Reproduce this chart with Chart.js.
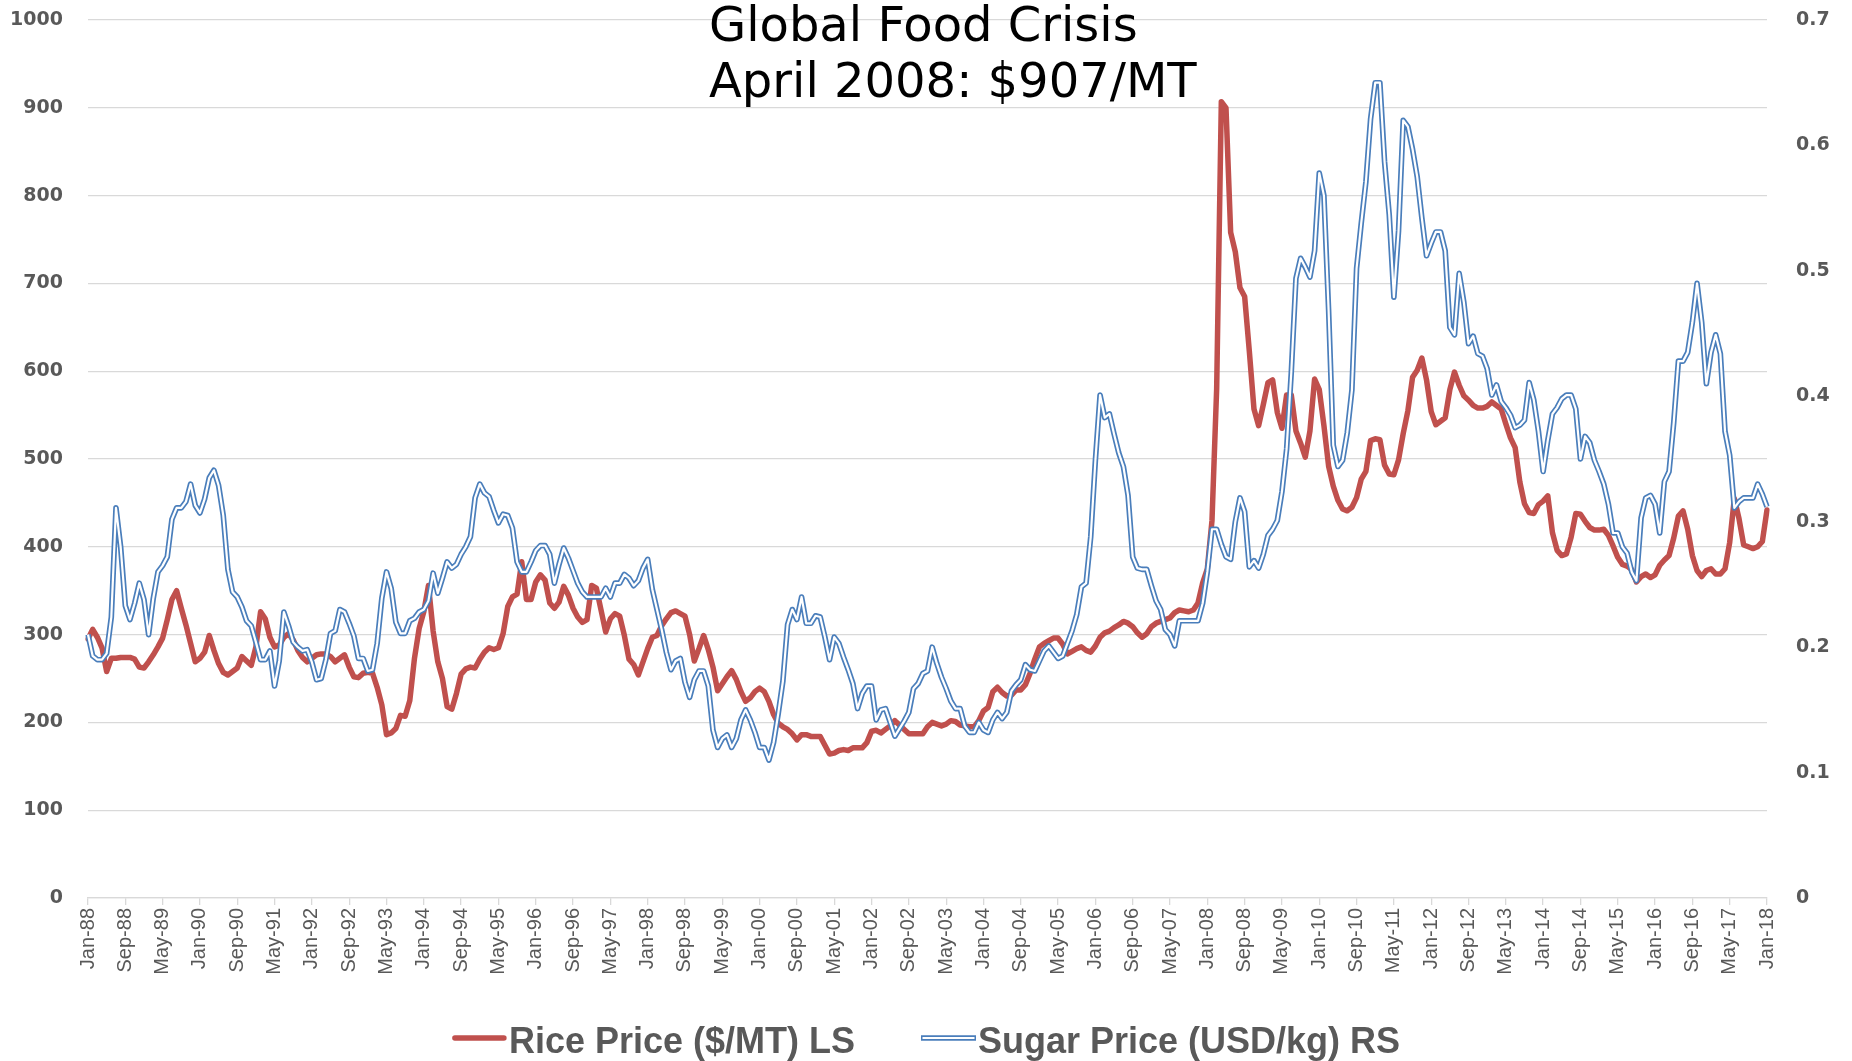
<!DOCTYPE html>
<html>
<head>
<meta charset="utf-8">
<title>Global Food Crisis - Rice and Sugar Prices</title>
<script src="https://cdn.jsdelivr.net/npm/chart.js"></script>
<style>
  html, body { margin: 0; padding: 0; background: #ffffff; }
  #wrap { width: 1852px; height: 1061px; position: relative; }
  canvas { display: block; }
</style>
</head>
<body>
<div id="wrap"><canvas id="chart" width="1852" height="1061"></canvas></div>
<script>
// ---------------- DATA ----------------
const monthNames = ['Jan','Feb','Mar','Apr','May','Jun','Jul','Aug','Sep','Oct','Nov','Dec'];
const startYear = 1988;
const monthCount = 361; // Jan-88 .. Jan-18

const tickLabels = ['Jan-88','Sep-88','May-89','Jan-90','Sep-90','May-91','Jan-92','Sep-92','May-93','Jan-94',
  'Sep-94','May-95','Jan-96','Sep-96','May-97','Jan-98','Sep-98','May-99','Jan-00','Sep-00','May-01','Jan-02',
  'Sep-02','May-03','Jan-04','Sep-04','May-05','Jan-06','Sep-06','May-07','Jan-08','Sep-08','May-09','Jan-10',
  'Sep-10','May-11','Jan-12','Sep-12','May-13','Jan-14','Sep-14','May-15','Jan-16','Sep-16','May-17','Jan-18'];

const leftTickValues = [0,100,200,300,400,500,600,700,800,900,1000];
const rightTickLabels = ['0','0.1','0.2','0.3','0.4','0.5','0.6','0.7'];

// Rice Price ($/MT), monthly Jan-88 .. Jan-18
const ricePrice = [
295,306,297,285,258,273,273,274,274,274,272,263,
262,269,277,286,296,317,340,350,330,311,290,269,
273,280,299,282,267,257,254,258,262,275,270,265,
286,326,318,297,286,288,297,301,294,282,274,269,
273,277,278,278,275,269,273,277,263,252,251,256,
257,256,240,220,186,188,193,208,207,225,273,307,
326,356,304,269,250,218,215,233,255,261,263,262,
272,280,285,283,285,301,332,343,346,383,340,340,
360,368,362,336,330,337,355,345,330,320,314,317,
356,353,328,303,318,324,321,299,272,266,254,269,
284,297,299,310,318,325,327,324,321,300,270,284,
299,283,263,236,244,252,259,249,235,224,228,235,
239,235,224,209,199,195,192,187,180,186,186,184,
184,184,174,164,165,168,169,168,171,171,171,177,
190,191,188,192,196,202,197,192,187,187,187,187,
195,200,198,196,198,202,201,197,196,195,195,202,
213,217,235,240,234,230,231,237,237,243,256,272,
286,290,293,296,296,289,278,281,284,286,282,280,
287,297,302,304,308,311,315,313,309,302,297,301,
309,313,315,317,319,325,328,327,326,328,336,359,
375,430,580,907,900,758,736,695,685,623,557,538,
562,587,590,553,535,573,573,532,518,502,532,591,
579,538,492,469,453,443,441,445,456,477,486,521,
523,522,493,483,482,499,529,555,593,601,615,590,
554,539,543,547,579,599,584,572,567,561,558,558,
560,565,561,557,540,524,513,474,449,439,438,448,
452,458,416,396,390,392,411,438,437,429,422,419,
419,420,413,401,388,380,378,374,360,366,369,365,
368,379,385,390,410,435,441,420,390,373,366,373,
375,369,369,375,405,455,432,402,400,398,400,406,
442];

// Sugar Price (USD/kg), monthly Jan-88 .. Jan-18
const sugarPrice = [
0.210,0.193,0.190,0.190,0.195,0.224,0.311,0.280,0.233,0.222,0.235,0.251,
0.238,0.210,0.239,0.260,0.265,0.272,0.302,0.311,0.311,0.316,0.330,0.313,
0.307,0.318,0.335,0.341,0.329,0.305,0.262,0.244,0.240,0.232,0.221,0.217,
0.204,0.190,0.190,0.197,0.169,0.189,0.228,0.217,0.204,0.200,0.197,0.198,
0.188,0.174,0.175,0.190,0.211,0.213,0.230,0.228,0.219,0.209,0.191,0.191,
0.181,0.182,0.203,0.239,0.260,0.247,0.220,0.211,0.211,0.221,0.223,0.228,
0.230,0.237,0.259,0.243,0.255,0.268,0.263,0.266,0.274,0.280,0.288,0.319,
0.330,0.323,0.320,0.309,0.299,0.306,0.305,0.295,0.268,0.260,0.260,0.268,
0.277,0.281,0.281,0.274,0.251,0.266,0.279,0.271,0.261,0.251,0.244,0.240,
0.240,0.240,0.240,0.247,0.240,0.251,0.251,0.258,0.255,0.249,0.253,0.263,
0.270,0.246,0.230,0.214,0.196,0.182,0.189,0.191,0.172,0.160,0.174,0.181,
0.181,0.169,0.134,0.120,0.127,0.130,0.120,0.127,0.142,0.150,0.142,0.132,
0.120,0.120,0.110,0.124,0.147,0.173,0.218,0.230,0.222,0.240,0.219,0.219,
0.225,0.224,0.208,0.190,0.208,0.203,0.192,0.182,0.171,0.151,0.163,0.169,
0.169,0.142,0.150,0.151,0.140,0.129,0.135,0.141,0.148,0.167,0.171,0.179,
0.181,0.200,0.187,0.176,0.167,0.157,0.151,0.151,0.137,0.132,0.132,0.140,
0.134,0.132,0.142,0.148,0.143,0.148,0.165,0.170,0.174,0.186,0.182,0.181,
0.189,0.197,0.201,0.196,0.191,0.193,0.203,0.213,0.226,0.248,0.251,0.288,
0.349,0.401,0.383,0.386,0.370,0.355,0.344,0.321,0.272,0.263,0.262,0.262,
0.249,0.237,0.230,0.214,0.210,0.201,0.221,0.221,0.221,0.221,0.221,0.235,
0.260,0.294,0.294,0.282,0.272,0.270,0.300,0.319,0.308,0.264,0.269,0.263,
0.274,0.289,0.294,0.301,0.324,0.358,0.419,0.494,0.510,0.503,0.495,0.516,
0.578,0.560,0.469,0.361,0.344,0.349,0.371,0.405,0.502,0.538,0.571,0.621,
0.650,0.650,0.587,0.545,0.479,0.532,0.620,0.615,0.597,0.575,0.542,0.512,
0.522,0.531,0.531,0.516,0.455,0.449,0.498,0.475,0.442,0.448,0.434,0.432,
0.422,0.401,0.409,0.396,0.391,0.385,0.375,0.377,0.381,0.411,0.397,0.372,
0.340,0.365,0.386,0.391,0.398,0.401,0.401,0.390,0.350,0.368,0.363,0.349,
0.340,0.330,0.314,0.291,0.291,0.280,0.275,0.260,0.253,0.303,0.319,0.321,
0.314,0.291,0.332,0.340,0.379,0.428,0.428,0.435,0.459,0.490,0.459,0.410,
0.435,0.449,0.434,0.372,0.353,0.311,0.316,0.319,0.319,0.319,0.330,0.322,
0.312];

const titleLines = ['Global Food Crisis', 'April 2008: $907/MT'];
const legendTexts = ['Rice Price ($/MT) LS', 'Sugar Price (USD/kg) RS'];

// category labels (one per month)
const categories = [];
for (let k = 0; k < monthCount; k++) {
  const y = startYear + Math.floor(k / 12);
  categories.push(monthNames[k % 12] + '-' + String(y % 100).padStart(2, '0'));
}

// ---------------- STYLE ----------------
const RED = '#c0504d';
const BLUE = '#4a7ebb';
const GRID = '#d9d9d9';
const LABEL = '#595959';

function fontAvailable(name) {
  const c = document.createElement('canvas').getContext('2d');
  const s = 'Rice Price ($/MT) LS abcdefghij 0123';
  c.font = 'bold 40px monospace'; const a = c.measureText(s).width;
  c.font = 'bold 40px "' + name + '", monospace'; const b = c.measureText(s).width;
  c.font = 'bold 40px serif'; const a2 = c.measureText(s).width;
  c.font = 'bold 40px "' + name + '", serif'; const b2 = c.measureText(s).width;
  return (a !== b) || (a2 !== b2);
}
const legendFont = fontAvailable('Liberation Sans Narrow')
  ? 'bold 43px "Liberation Sans Narrow"'
  : 'bold 36px "Liberation Sans"';

const titlePlugin = {
  id: 'overlayTitle',
  afterDraw(chart) {
    const ctx = chart.ctx;
    ctx.save();
    ctx.font = '48px "DejaVu Sans"';
    ctx.fillStyle = '#000000';
    ctx.textBaseline = 'alphabetic';
    ctx.textAlign = 'left';
    ctx.fillText(titleLines[0], 709, 41);
    ctx.fillText(titleLines[1], 709, 97);
    ctx.restore();
  }
};

const legendPlugin = {
  id: 'manualLegend',
  afterDraw(chart) {
    const ctx = chart.ctx;
    ctx.save();
    ctx.font = legendFont;
    ctx.fillStyle = LABEL;
    ctx.textBaseline = 'alphabetic';
    ctx.textAlign = 'left';
    const w1 = ctx.measureText(legendTexts[0]).width;
    const w2 = ctx.measureText(legendTexts[1]).width;
    const sample = 55, gapItems = 66, textGap = 2;
    const total = sample + textGap + w1 + gapItems + sample + textGap + w2;
    let x = 926 - total / 2;
    const yLine = 1038, yText = 1053;
    // rice sample
    ctx.beginPath();
    ctx.strokeStyle = RED; ctx.lineWidth = 5.5; ctx.lineCap = 'round';
    ctx.moveTo(x + 3, yLine); ctx.lineTo(x + sample - 3, yLine); ctx.stroke();
    x += sample + textGap;
    ctx.fillText(legendTexts[0], x, yText);
    x += w1 + gapItems;
    // sugar sample (double line)
    ctx.beginPath();
    ctx.strokeStyle = BLUE; ctx.lineWidth = 5.5; ctx.lineCap = 'butt';
    ctx.moveTo(x, yLine); ctx.lineTo(x + sample, yLine); ctx.stroke();
    ctx.beginPath();
    ctx.strokeStyle = '#ffffff'; ctx.lineWidth = 2.2;
    ctx.moveTo(x + 1.5, yLine); ctx.lineTo(x + sample - 1.5, yLine); ctx.stroke();
    x += sample + textGap;
    ctx.fillText(legendTexts[1], x, yText);
    ctx.restore();
  }
};

const ctx = document.getElementById('chart').getContext('2d');
new Chart(ctx, {
  type: 'line',
  data: {
    labels: categories,
    datasets: [
      { label: 'sugar-inner', data: sugarPrice, yAxisID: 'y1', borderColor: '#ffffff', borderWidth: 2.2,
        pointRadius: 0, tension: 0, fill: false, order: 0, borderJoinStyle: 'round' },
      { label: legendTexts[1], data: sugarPrice, yAxisID: 'y1', borderColor: BLUE, borderWidth: 5.6,
        pointRadius: 0, tension: 0, fill: false, order: 1, borderJoinStyle: 'round' },
      { label: legendTexts[0], data: ricePrice, yAxisID: 'y', borderColor: RED, borderWidth: 5.5,
        pointRadius: 0, tension: 0, fill: false, order: 2, borderJoinStyle: 'round', borderCapStyle: 'round' }
    ]
  },
  options: {
    responsive: false,
    animation: false,
    devicePixelRatio: 1,
    layout: { padding: { top: 20, left: 0, right: 0, bottom: 0 } },
    plugins: { legend: { display: false }, tooltip: { enabled: false }, title: { display: false } },
    scales: {
      x: {
        type: 'category',
        offset: false,
        grid: { display: true, drawOnChartArea: false, drawTicks: true, tickLength: 7, color: GRID, lineWidth: 1.3 },
        border: { display: true, color: GRID, width: 1.3 },
        ticks: {
          autoSkip: false, minRotation: 90, maxRotation: 90, padding: 3,
          color: LABEL, font: { family: '"Liberation Sans"', size: 20 },
          callback: (v, i) => (i % 8 === 0 ? tickLabels[i / 8] : null)
        },
        afterFit: s => { s.height = 163; }
      },
      y: {
        position: 'left', min: 0, max: 1000,
        grid: { color: GRID, lineWidth: 1.3, drawTicks: false },
        border: { display: false },
        afterBuildTicks: s => { s.ticks = leftTickValues.map(v => ({ value: v })); },
        ticks: { padding: 25, color: LABEL, font: { family: '"DejaVu Sans"', size: 19, weight: 'bold' },
                 callback: v => String(v) },
        afterFit: s => { s.width = 88; s.paddingTop = 0; s.paddingBottom = 0; }
      },
      y1: {
        position: 'right', min: 0, max: 0.7,
        grid: { display: false, drawTicks: false },
        border: { display: false },
        afterBuildTicks: s => { s.ticks = rightTickLabels.map((t, k) => ({ value: k / 10 })); },
        ticks: { padding: 29, color: LABEL, font: { family: '"DejaVu Sans"', size: 19, weight: 'bold' },
                 callback: (v, i) => rightTickLabels[i] },
        afterFit: s => { s.width = 85; s.paddingTop = 0; s.paddingBottom = 0; }
      }
    }
  },
  plugins: [titlePlugin, legendPlugin]
});
</script>
</body>
</html>
